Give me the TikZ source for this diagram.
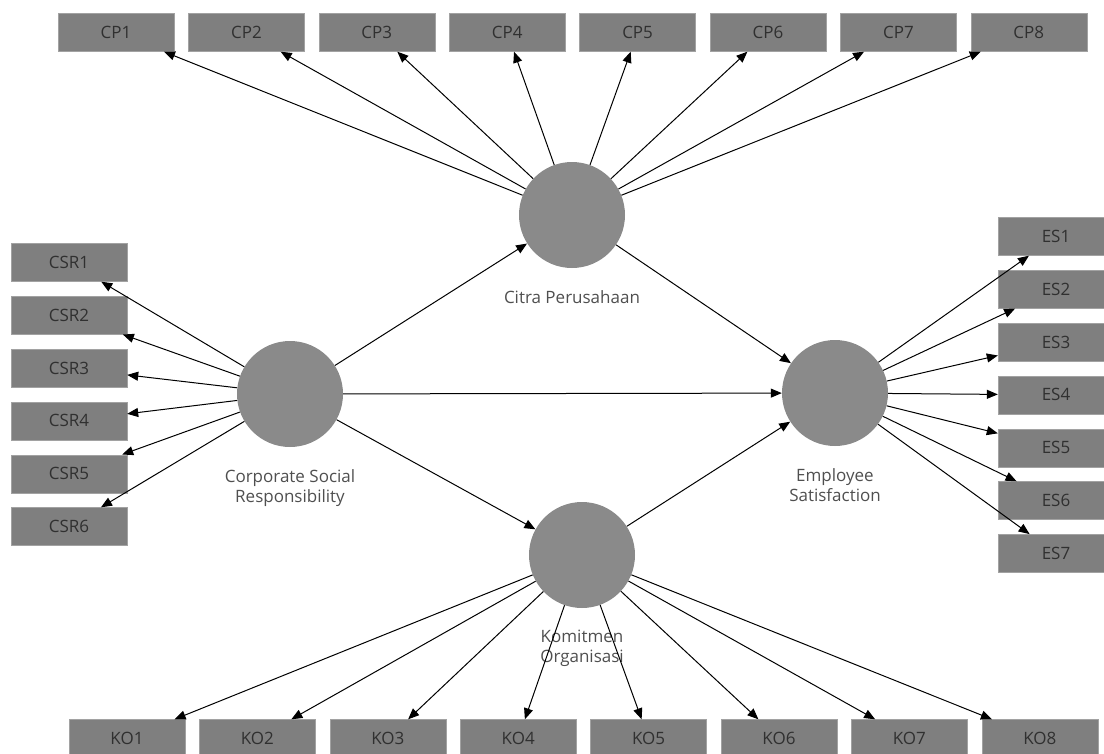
\documentclass[tikz,border=0pt]{standalone}
\usepackage{fontspec}
\setmainfont{Open Sans}
\usetikzlibrary{positioning,arrows.meta}

\definecolor{boxgray}{HTML}{7F7F7F}
\definecolor{boxline}{HTML}{A2A2A2}
\definecolor{latgray}{HTML}{8A8A8A}
\definecolor{txtgray}{HTML}{303030}

\tikzset{
    indicator/.style={draw=boxline, fill=boxgray, minimum width=116pt, minimum height=38pt,
        inner sep=0pt, text=txtgray, font=\fontsize{17}{20}\selectfont},
    latent/.style={circle, fill=latgray, minimum size=106pt, inner sep=0pt},
    latlabel/.style={text=txtgray!85, align=center, inner sep=0pt, font=\fontsize{17}{20}\selectfont},
    load/.style={-{Triangle[length=11pt,width=9pt]}, line width=1pt},
}

\begin{document}
\begin{tikzpicture}[x=1pt,y=-1pt]
        \useasboundingbox (0,0) rectangle (1104,753);
        % latent variables
        \node[latent] (cp) at (572,215) {};
        \node[latent] (csr) at (290,394) {};
        \node[latent] (es) at (835,393) {};
        \node[latent] (ko) at (582,555) {};
        \node[latlabel, below=22pt of cp] (cpl) {Citra Perusahaan};
        \node[latlabel, below=22pt of csr] (csrl) {Corporate Social\\Responsibility};
        \node[latlabel, below=22pt of es] (esl) {Employee\\Satisfaction};
        \node[latlabel, below=22pt of ko] (kol) {Komitmen\\Organisasi};
        % indicators
        \foreach \i in {1,...,8}
            \node[indicator] (cp\i) at ({116+130.4*(\i-1)},32.5) {CP\i};
        \foreach \i in {1,...,6}
            \node[indicator] (csr\i) at (69,{262.5+52.8*(\i-1)}) {CSR\i};
        \foreach \i in {1,...,7}
            \node[indicator] (es\i) at (1056,{236.5+52.8*(\i-1)}) {ES\i};
        \foreach \i in {1,...,8}
            \node[indicator] (ko\i) at ({127+130.4*(\i-1)},738.5) {KO\i};
        % outer loadings
        \foreach \i in {1,...,8} \draw[load] (cp) -- (cp\i);
        \foreach \i in {1,...,6} \draw[load] (csr) -- (csr\i);
        \foreach \i in {1,...,7} \draw[load] (es) -- (es\i);
        \foreach \i in {1,...,8} \draw[load] (ko) -- (ko\i);
        % structural paths
        \draw[load] (csr) -- (cp);
        \draw[load] (csr) -- (es);
        \draw[load] (csr) -- (ko);
        \draw[load] (cp) -- (es);
        \draw[load] (ko) -- (es);
    \end{tikzpicture}
\end{document}
